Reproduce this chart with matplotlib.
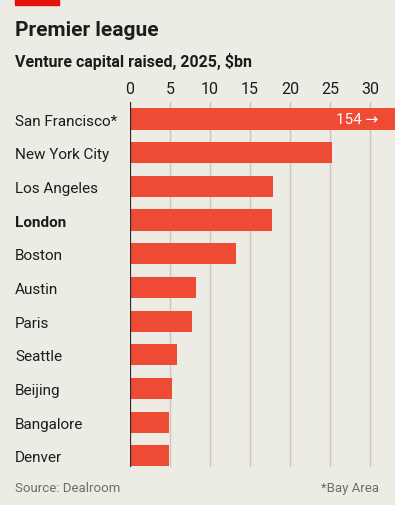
import numpy as np
import matplotlib
matplotlib.use("Agg")
import matplotlib.pyplot as plt
import matplotlib.transforms as mtransforms
from matplotlib import font_manager

# datos
ciudades = ["San Francisco*", "New York City", "Los Angeles", "London", "Boston",
            "Austin", "Paris", "Seattle", "Beijing", "Bangalore", "Denver"]
valores = [154, 25.2, 17.9, 17.8, 13.2, 8.2, 7.7, 5.9, 5.3, 4.9, 4.9]
ticks_x = [0, 5, 10, 15, 20, 25, 30]

fondo = "#ECEBE4"
rojo = "#EE4A34"
texto = "#1C1C1C"

familias = [f.name for f in font_manager.fontManager.ttflist]
fuente = "Liberation Sans Narrow" if "Liberation Sans Narrow" in familias else "Roboto"
plt.rcParams["font.family"] = [fuente, "DejaVu Sans"]

fig = plt.figure(figsize=(3.95, 5.06), dpi=100, facecolor=fondo)
ax = fig.add_axes([130/395, 1 - 468/506, 1 - 130/395, (468 - 103)/506])
ax.set_facecolor(fondo)

y = np.arange(len(ciudades))
xmax = (395 - 130) / 8.0
# la barra de San Francisco se corta en el borde
ancho = [min(v, xmax + 1) for v in valores]
ax.barh(y, ancho, height=0.63, color=rojo, zorder=2)

ax.set_xlim(0, xmax)
ax.set_ylim(10.33, -0.505)

# rejilla vertical
for t in ticks_x[1:]:
    ax.axvline(t, color="#C9C7BF", linewidth=1, zorder=1)
ax.axvline(0, color="#2A2A2A", linewidth=1.6, zorder=3)

ax.xaxis.tick_top()
ax.set_xticks(ticks_x)
ax.set_xticklabels([str(t) for t in ticks_x])
ax.tick_params(axis="x", length=0, pad=4.5, labelsize=11.5, labelcolor=texto)

ax.set_yticks(y)
ax.set_yticklabels(ciudades)
ax.tick_params(axis="y", length=0, pad=82.8, labelsize=11, labelcolor=texto)
for lab in ax.get_yticklabels():
    lab.set_horizontalalignment("left")
    if lab.get_text() == "London":
        lab.set_fontweight("bold")

for s in ax.spines.values():
    s.set_visible(False)

# etiqueta de la barra fuera de escala
trans = mtransforms.blended_transform_factory(fig.transFigure, ax.transData)
ax.text(378/395, y[0], "%d \u2192" % valores[0], transform=trans, fontsize=11,
        color="white", ha="right", va="center", zorder=4)

# titulos
fig.patches.append(plt.Rectangle((15/395, 1 - 6/506), 44/395, 6/506,
                                 transform=fig.transFigure, color="#E3120B"))
fig.text(15/395, 1 - 30/506, "Premier league", fontsize=15, fontweight="bold",
         color=texto, va="center")
fig.text(15/395, 1 - 62/506, "Venture capital raised, 2025, $bn", fontsize=11.5,
         fontweight="bold", color=texto, va="center")
fig.text(15/395, 1 - 489/506, "Source: Dealroom", fontsize=9.5, color="#6E6E6A", va="center")
fig.text(379/395, 1 - 489/506, "*Bay Area", fontsize=9.5, color="#6E6E6A",
         va="center", ha="right")

fig.savefig("out.png", dpi=100, facecolor=fondo)
